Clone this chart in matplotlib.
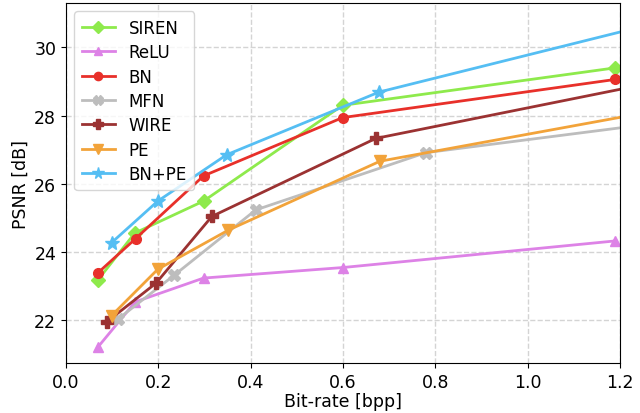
import matplotlib
matplotlib.use("Agg")
import matplotlib.pyplot as plt

siren_x = [0.069, 0.149, 0.298, 0.599, 1.189]
siren_y = [23.17, 24.55, 25.49, 28.30, 29.40]
relu_x = [0.069, 0.150, 0.298, 0.600, 1.189]
relu_y = [21.20, 22.53, 23.23, 23.54, 24.32]
bn_x = [0.069, 0.151, 0.298, 0.599, 1.189]
bn_y = [23.38, 24.39, 26.23, 27.94, 29.06]
mfn_x = [0.113, 0.235, 0.411, 0.779, 1.35]
mfn_y = [22.03, 23.32, 25.23, 26.91, 27.90]
wire_x = [0.089, 0.195, 0.316, 0.671, 1.35]
wire_y = [21.95, 23.08, 25.04, 27.33, 29.18]
pe_x = [0.099, 0.199, 0.352, 0.680, 1.35]
pe_y = [22.13, 23.49, 24.64, 26.66, 28.32]
bnpe_x = [0.099, 0.199, 0.348, 0.678, 1.35]
bnpe_y = [24.27, 25.49, 26.85, 28.69, 30.96]

series = [
    ("SIREN", siren_x, siren_y, "#8EEA4C", "D", 7),
    ("ReLU", relu_x, relu_y, "#DD82E6", "^", 7.5),
    ("BN", bn_x, bn_y, "#E8302A", "o", 7),
    ("MFN", mfn_x, mfn_y, "#BDBDBD", "X", 8),
    ("WIRE", wire_x, wire_y, "#9B3232", "P", 8),
    ("PE", pe_x, pe_y, "#F2A33A", "v", 8),
    ("BN+PE", bnpe_x, bnpe_y, "#55BEF3", "*", 10),
]

fig = plt.figure(figsize=(6.4, 4.14), dpi=100)
ax = fig.add_axes([0.103, 0.121, 0.866, 0.869])
for name, xs, ys, c, m, ms in series:
    ax.plot(xs, ys, color=c, marker=m, markersize=ms, linewidth=2, label=name)

ax.set_xlim(0.0, 1.2)
ax.set_ylim(20.74, 31.3)
ax.set_xticks([0.0, 0.2, 0.4, 0.6, 0.8, 1.0, 1.2])
ax.set_yticks([22, 24, 26, 28, 30])
ax.grid(True, linestyle="--", color="#d4d4d4", linewidth=1)
ax.set_axisbelow(True)
ax.tick_params(labelsize=12.5)
ax.set_xlabel("Bit-rate [bpp]", fontsize=12.5, labelpad=1)
ax.set_ylabel("PSNR [dB]", fontsize=12.5, labelpad=3)
ax.legend(loc="upper left", fontsize=12, handlelength=2.0, labelspacing=0.38,
          borderpad=0.45, markerscale=0.85)
fig.savefig("out.png", dpi=100)
